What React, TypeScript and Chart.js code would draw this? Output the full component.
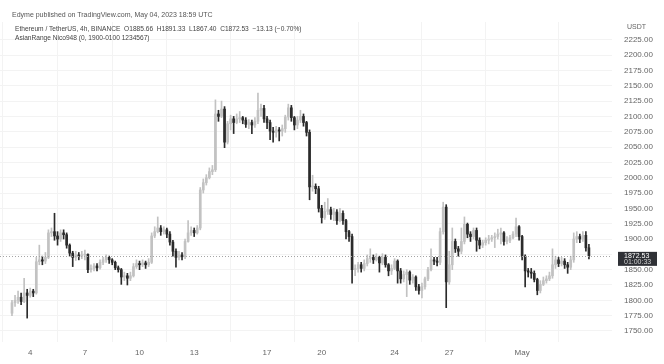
import React, { useEffect, useRef } from "react";
import { Chart, registerables } from "chart.js";
Chart.register(...registerables);

// ETH/USDT 4h candles, Apr 3 00:00 -> May 4 16:00 (UTC)
const firstOpen = 1779;
const closes = [
  1796, 1800, 1805, 1798, 1812, 1808, 1815, 1812, 1863, 1866,
  1864, 1870, 1910, 1912, 1905, 1900, 1910, 1907, 1890, 1877,
  1870, 1874, 1872, 1874, 1875, 1850, 1852, 1856, 1853, 1862,
  1866, 1870, 1866, 1862, 1853, 1850, 1838, 1840, 1836, 1840,
  1855, 1860, 1858, 1861, 1858, 1862, 1905, 1912, 1918, 1912,
  1915, 1908, 1895, 1880, 1870, 1874, 1871, 1896, 1910, 1914,
  1910, 1918, 1980, 1992, 2000, 2010, 2013, 2104, 2100, 2112,
  2058, 2088, 2096, 2090, 2096, 2098, 2094, 2087, 2090, 2086,
  2092, 2110, 2113, 2096, 2090, 2076, 2074, 2078, 2076, 2080,
  2099, 2114, 2098, 2086, 2094, 2100, 2090, 2074, 1985, 1986,
  1982, 1950, 1935, 1945, 1948, 1940, 1944, 1930, 1942, 1930,
  1912, 1904, 1850, 1852, 1858, 1852, 1860, 1868, 1870, 1866,
  1870, 1861, 1870, 1858, 1848, 1852, 1864, 1848, 1835, 1842,
  1846, 1833, 1838, 1822, 1816, 1822, 1835, 1850, 1866, 1864,
  1862, 1912, 1952, 1830, 1858, 1896, 1884, 1880, 1896, 1924,
  1908, 1904, 1914, 1898, 1890, 1894, 1898, 1900, 1902, 1904,
  1908, 1910, 1896, 1898, 1902, 1908, 1920, 1904, 1872, 1848,
  1846, 1844, 1834, 1816, 1826, 1832, 1835, 1840, 1858, 1866,
  1860, 1864, 1858, 1854, 1866, 1900, 1904, 1900, 1906, 1885.66,
  1872.53,
];
const highs = [
  1800, 1808, 1815, 1812, 1836, 1818, 1820, 1818, 1870, 1890,
  1872, 1878, 1915, 1918, 1942, 1912, 1915, 1915, 1910, 1892,
  1880, 1880, 1878, 1880, 1882, 1876, 1858, 1860, 1860, 1866,
  1870, 1874, 1872, 1868, 1864, 1856, 1852, 1846, 1844, 1846,
  1860, 1866, 1864, 1866, 1864, 1868, 1910, 1920, 1936, 1922,
  1920, 1918, 1912, 1898, 1884, 1880, 1878, 1900, 1930, 1920,
  1918, 1922, 1984, 1998, 2005, 2016, 2020, 2127, 2110, 2125,
  2116, 2092, 2102, 2100, 2104, 2108, 2100, 2098, 2095, 2094,
  2098, 2138, 2120, 2118, 2100, 2094, 2082, 2084, 2082, 2086,
  2102, 2120, 2118, 2100, 2100, 2110, 2104, 2092, 2078, 2004,
  1990, 1986, 1955, 1960, 1966, 1952, 1950, 1948, 1950, 1946,
  1932, 1914, 1908, 1858, 1862, 1862, 1866, 1874, 1884, 1874,
  1876, 1872, 1876, 1874, 1860, 1858, 1868, 1866, 1852, 1848,
  1850, 1848, 1842, 1840, 1826, 1828, 1838, 1854, 1884, 1870,
  1870, 1918, 1960, 1956, 1880, 1918, 1900, 1888, 1918, 1936,
  1926, 1912, 1918, 1918, 1902, 1898, 1902, 1906, 1906, 1910,
  1916, 1918, 1912, 1904, 1906, 1912, 1934, 1922, 1906, 1874,
  1852, 1852, 1848, 1836, 1832, 1838, 1840, 1846, 1884, 1872,
  1870, 1870, 1868, 1862, 1872, 1910, 1912, 1908, 1912, 1912,
  1891.33,
];
const lows = [
  1775, 1790, 1795, 1793, 1796, 1771, 1805, 1806, 1810, 1858,
  1858, 1860, 1868, 1904, 1898, 1890, 1896, 1900, 1885, 1872,
  1855, 1865, 1866, 1868, 1866, 1845, 1846, 1848, 1848, 1851,
  1858, 1862, 1860, 1858, 1850, 1846, 1826, 1832, 1825, 1832,
  1838, 1852, 1850, 1855, 1852, 1855, 1860, 1902, 1910, 1906,
  1908, 1902, 1890, 1872, 1854, 1866, 1866, 1868, 1895, 1906,
  1904, 1908, 1915, 1975, 1988, 1998, 2005, 2010, 2092, 2098,
  2049, 2055, 2078, 2072, 2088, 2090, 2088, 2082, 2080, 2072,
  2082, 2088, 2100, 2090, 2080, 2062, 2058, 2066, 2060, 2068,
  2074, 2094, 2092, 2078, 2080, 2090, 2084, 2068, 1964, 1978,
  1974, 1944, 1926, 1932, 1940, 1932, 1930, 1924, 1928, 1924,
  1900, 1896, 1828, 1840, 1846, 1846, 1848, 1856, 1862, 1860,
  1864, 1846, 1858, 1854, 1840, 1842, 1850, 1828, 1828, 1830,
  1806, 1826, 1828, 1816, 1810, 1804, 1818, 1832, 1848, 1858,
  1856, 1858, 1908, 1788, 1826, 1850, 1878, 1872, 1876, 1892,
  1902, 1896, 1900, 1880, 1884, 1886, 1890, 1892, 1896, 1886,
  1900, 1892, 1890, 1892, 1894, 1900, 1904, 1898, 1866, 1822,
  1838, 1836, 1830, 1809, 1812, 1824, 1828, 1832, 1836, 1852,
  1855, 1856, 1852, 1844, 1850, 1862, 1894, 1894, 1896, 1880,
  1867.4,
];

const xTickIndex = [6, 24, 42, 60, 84, 102, 126, 144, 168];
const xTickLabels = ["4", "7", "10", "13", "17", "20", "24", "27", "May"];
const yTickValues = [1750, 1775, 1800, 1825, 1850, 1875, 1900, 1925, 1950, 1975, 2000, 2025, 2050, 2075, 2100, 2125, 2150, 2175, 2200, 2225];
const lastPrice = 1872.53;
const countdown = "01:00:33";

const UP = "#c2c2c2";
const DOWN = "#2b2b2b";
const FONT = "'Liberation Sans', Arial, sans-serif";

export default function App() {
  const ref = useRef<HTMLCanvasElement | null>(null);
  useEffect(() => {
    if (!ref.current) return;
    const opens = closes.map((c, i) => (i === 0 ? firstOpen : closes[i - 1]));
    const colors = closes.map((c, i) => (c >= opens[i] ? UP : DOWN));
    const bodies = closes.map((c, i) => ({ x: i, y: [Math.min(opens[i], c), Math.max(opens[i], c)] }));
    const wicks = closes.map((c, i) => ({ x: i, y: [Math.min(lows[i], opens[i], c), Math.max(highs[i], opens[i], c)] }));

    const pricePlugin = {
      id: "priceLine",
      afterDatasetsDraw(chart: any) {
        const { ctx, chartArea, scales } = chart;
        const y = Math.round(scales.y.getPixelForValue(lastPrice)) + 0.5;
        ctx.save();
        ctx.strokeStyle = "#a5a5a5";
        ctx.lineWidth = 1;
        ctx.setLineDash([1, 2]);
        ctx.beginPath();
        ctx.moveTo(chartArea.left, y);
        ctx.lineTo(chartArea.right, y);
        ctx.stroke();
        ctx.restore();
      },
      afterDraw(chart: any) {
        const { ctx, scales } = chart;
        const y = scales.y.getPixelForValue(lastPrice);
        ctx.save();
        ctx.fillStyle = "#2f3136";
        ctx.fillRect(618, y - 4, 39, 14);
        ctx.fillStyle = "#ffffff";
        ctx.font = "7px " + FONT;
        ctx.textBaseline = "middle";
        ctx.textAlign = "left";
        ctx.fillText(lastPrice.toFixed(2), 624, y);
        ctx.fillStyle = "#d0d0d0";
        ctx.fillText(countdown, 624, y + 6.5);
        ctx.restore();
      },
    };

    const chart = new Chart(ref.current, {
      type: "bar",
      data: {
        datasets: [
          {
            label: "wick",
            data: wicks as any,
            backgroundColor: colors,
            barThickness: 1,
            grouped: false,
            order: 2,
          } as any,
          {
            label: "body",
            data: bodies as any,
            backgroundColor: colors,
            barThickness: 2,
            minBarLength: 1,
            grouped: false,
            order: 1,
          } as any,
        ],
      },
      options: {
        animation: false,
        responsive: false,
        layout: { padding: { top: 22, left: 0, right: 0, bottom: 0 } },
        plugins: { legend: { display: false }, tooltip: { enabled: false } },
        scales: {
          x: {
            type: "linear",
            min: -3.95,
            max: 197.6,
            offset: false,
            grid: { color: "#f3f3f3", drawTicks: false },
            border: { display: false },
            afterBuildTicks: (s: any) => {
              s.ticks = xTickIndex.map((v) => ({ value: v }));
            },
            afterFit: (s: any) => {
              s.height = 22;
            },
            ticks: {
              autoSkip: false,
              maxRotation: 0,
              padding: 6,
              color: "#666",
              font: { size: 8, family: FONT },
              callback: (_v: any, i: number) => xTickLabels[i],
            },
          },
          y: {
            position: "right",
            min: 1732,
            max: 2254,
            grid: { color: "#f3f3f3", drawTicks: false },
            border: { display: false },
            afterBuildTicks: (s: any) => {
              s.ticks = yTickValues.map((v) => ({ value: v }));
            },
            afterFit: (s: any) => {
              s.width = 52;
            },
            ticks: {
              padding: 12,
              color: "#666",
              font: { size: 8, family: FONT },
              callback: (v: any) => (v === 1875 ? "" : Number(v).toFixed(2)),
            },
          },
        },
      } as any,
      plugins: [pricePlugin],
    });
    return () => chart.destroy();
  }, []);

  const txt: React.CSSProperties = {
    position: "absolute",
    fontFamily: FONT,
    whiteSpace: "nowrap",
    color: "#444",
  };

  return (
    <div style={{ position: "fixed", left: 0, top: 0, width: 664, height: 364, background: "#fff" }}>
      <canvas ref={ref} width={664} height={364} style={{ display: "block", width: 664, height: 364 }} />
      <div style={{ ...txt, left: 12, top: 10, fontSize: 7, lineHeight: "10px", color: "#555" }}>
        Edyme published on TradingView.com, May 04, 2023 18:59 UTC
      </div>
      <div style={{ ...txt, left: 15, top: 24, fontSize: 6.6, lineHeight: "10px" }}>
        Ethereum / TetherUS, 4h, BINANCE&nbsp; O1885.66&nbsp; H1891.33&nbsp; L1867.40&nbsp; C1872.53&nbsp; −13.13 (−0.70%)
      </div>
      <div style={{ ...txt, left: 15, top: 33, fontSize: 6.6, lineHeight: "10px" }}>
        AsianRange Nico948 (0, 1900-0100 1234567)
      </div>
      <div style={{ ...txt, left: 627, top: 22, fontSize: 7, lineHeight: "10px", color: "#666" }}>USDT</div>
    </div>
  );
}
